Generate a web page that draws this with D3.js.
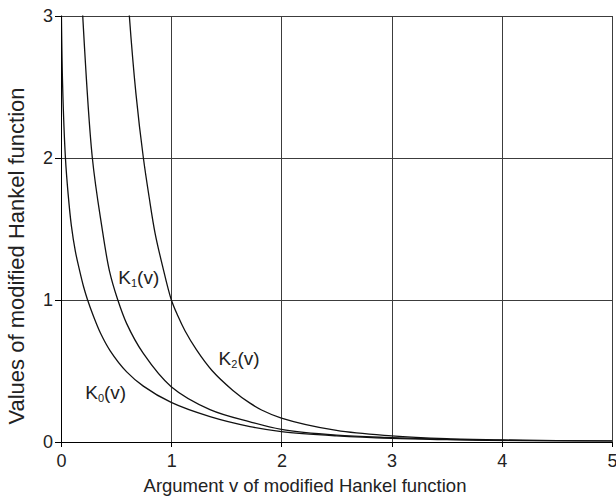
<!DOCTYPE html>
<html>
<head>
<meta charset="UTF-8">
<title>Modified Hankel functions</title>
<script src="https://d3js.org/d3.v7.min.js"></script>
<style>
  body { margin: 0; background: #fff; }
  svg { font-family: "Liberation Sans", Arial, sans-serif; }
  .grid line { stroke: #3c3c3c; stroke-width: 1; shape-rendering: crispEdges; }
  .grid .domain { display: none; }
  .axis line, .axis path { stroke: #000; shape-rendering: crispEdges; }
  .axis text { font-size: 18px; fill: #222; }
  .curve { fill: none; stroke: #111; stroke-width: 1.3; }
  .lbl { font-size: 19px; fill: #222; }
</style>
</head>
<body>
<svg width="616" height="498"></svg>
<script>

// values
var xTicks = [0, 1, 2, 3, 4, 5];
var yTicks = [0, 1, 2, 3];

var k0v = [0.003, 0.015, 0.04, 0.065, 0.094, 0.13, 0.17, 0.205, 0.24, 0.293, 0.36, 0.445, 0.596, 0.747, 1.0, 1.352, 1.715, 2.0, 2.5, 3.0, 3.5, 4.0, 4.5, 5.0];
var k0y = [3.05, 2.5, 2.0, 1.74, 1.52, 1.34, 1.2, 1.09, 1.0, 0.885, 0.76, 0.64, 0.49, 0.39, 0.275, 0.175, 0.105, 0.07, 0.04, 0.022, 0.013, 0.007, 0.004, 0.002];

var k1v = [0.18, 0.197, 0.284, 0.369, 0.44, 0.514, 0.596, 0.747, 1.0, 1.352, 1.715, 2.0, 2.5, 3.0, 3.5, 4.0, 4.5, 5.0];
var k1y = [3.3, 3.0, 2.0, 1.52, 1.2, 1.0, 0.83, 0.62, 0.386, 0.225, 0.139, 0.086, 0.045, 0.027, 0.015, 0.008, 0.005, 0.003];

var k2v = [0.6, 0.62, 0.68, 0.747, 0.8, 0.853, 0.92, 1.0, 1.06, 1.125, 1.23, 1.37, 1.56, 1.715, 1.82, 2.0, 2.5, 3.0, 3.5, 4.0, 4.5, 5.0];
var k2y = [3.25, 3.0, 2.45, 2.0, 1.72, 1.47, 1.24, 1.0, 0.885, 0.78, 0.645, 0.5, 0.36, 0.27, 0.222, 0.165, 0.078, 0.04, 0.02, 0.011, 0.006, 0.003];

var svg = d3.select("svg");
var margin = {left: 61, top: 15.5, right: 4, bottom: 56.5};
var width = 616 - margin.left - margin.right,
    height = 498 - margin.top - margin.bottom;

var g = svg.append("g").attr("transform", "translate(" + margin.left + "," + margin.top + ")");

var x = d3.scaleLinear().domain([0, 5]).range([0, width]);
var y = d3.scaleLinear().domain([0, 3]).range([height, 0]);

// grid
g.append("g").attr("class", "grid")
    .attr("transform", "translate(0," + height + ")")
    .call(d3.axisBottom(x).tickValues(xTicks.slice(1)).tickSize(-height).tickFormat(""));
g.append("g").attr("class", "grid")
    .call(d3.axisLeft(y).tickValues(yTicks.slice(1)).tickSize(-width).tickFormat(""));

g.append("defs").append("clipPath").attr("id", "clip")
  .append("rect").attr("width", width).attr("height", height);

var line = d3.line()
    .x(function(d) { return x(d[0]); })
    .y(function(d) { return y(d[1]); })
    .curve(d3.curveCatmullRom.alpha(0.5));

[[k0v, k0y], [k1v, k1y], [k2v, k2y]].forEach(function(s) {
  g.append("path")
    .attr("class", "curve")
    .attr("clip-path", "url(#clip)")
    .attr("d", line(d3.zip(s[0], s[1])));
});

// axes
g.append("g").attr("class", "axis")
    .attr("transform", "translate(0," + height + ")")
    .call(d3.axisBottom(x).tickValues(xTicks).tickSize(5).tickSizeOuter(0).tickPadding(8).tickFormat(d3.format("d")));
g.append("g").attr("class", "axis")
    .call(d3.axisLeft(y).tickValues(yTicks).tickSize(6).tickSizeOuter(0).tickPadding(2).tickFormat(d3.format("d")));

// curve labels
function label(px, py, sub) {
  var t = g.append("text").attr("class", "lbl").attr("x", px).attr("y", py);
  t.append("tspan").text("K");
  t.append("tspan").attr("font-size", "11px").attr("dy", 3).text(sub);
  t.append("tspan").attr("dy", -3).text("(v)");
}
label(x(0.52), y(1.11), "1");
label(x(1.43), y(0.54), "2");
label(x(0.22), y(0.30), "0");

// axis titles
svg.append("text")
    .attr("x", 305).attr("y", 492)
    .attr("text-anchor", "middle")
    .attr("font-size", "18.5px").attr("fill", "#222")
    .text("Argument v of modified Hankel function");

svg.append("text")
    .attr("transform", "translate(24,256) rotate(-90)")
    .attr("text-anchor", "middle")
    .attr("font-size", "22px").attr("fill", "#222")
    .text("Values of modified Hankel function");
</script>
</body>
</html>
